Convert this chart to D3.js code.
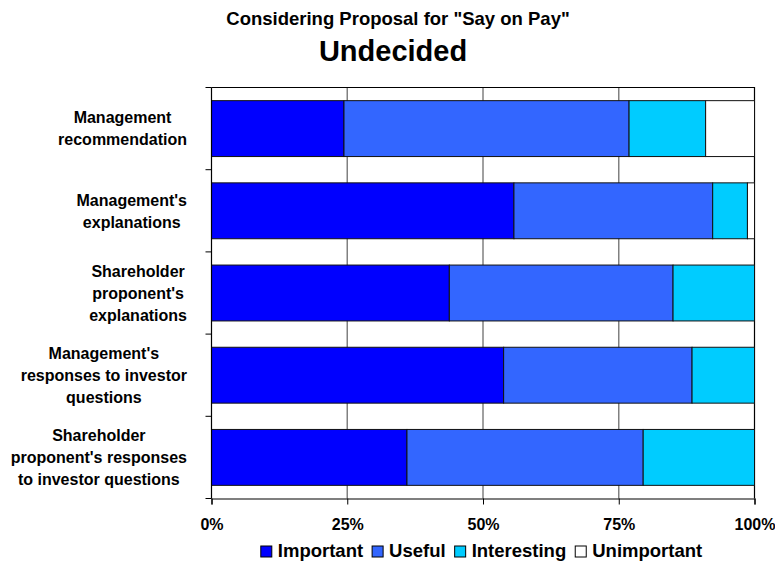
<!DOCTYPE html>
<html>
<head>
<meta charset="utf-8">
<script src="https://cdn.jsdelivr.net/npm/d3@7"></script>
<style>
  html, body { margin: 0; padding: 0; background: #fff; }
  svg { display: block; font-family: "Liberation Sans", Arial, sans-serif; }
</style>
</head>
<body>
<svg id="chart" width="775" height="563"></svg>
<script>
// ---- Data ----
const categories = [
  ["Management", "recommendation"],
  ["Management's", "explanations"],
  ["Shareholder", "proponent's", "explanations"],
  ["Management's", "responses to investor", "questions"],
  ["Shareholder", "proponent's responses", "to investor questions"]
];
const seriesNames = ["Important", "Useful", "Interesting", "Unimportant"];
const important   = [24.4, 55.7, 43.8, 53.8, 36.0];
const useful      = [52.5, 36.6, 41.2, 34.7, 43.5];
const interesting = [14.1, 6.4, 15.0, 11.5, 20.5];
const unimportant = [9.0, 1.3, 0, 0, 0];
const xTicks = [0, 25, 50, 75, 100];
const xTickLabels = ["0%", "25%", "50%", "75%", "100%"];
const titleLine1 = 'Considering Proposal for "Say on Pay"';
const titleLine2 = "Undecided";
const colors = ["#0000FF", "#3366FF", "#00CCFF", "#FFFFFF"];

// ---- Layout ----
const svg = d3.select("#chart");
const plot = { left: 211.5, right: 754.5, top: 87.5, bottom: 498.5 };

const seriesValues = [important, useful, interesting, unimportant];
const rows = categories.map((c, i) => {
  const obj = { key: i };
  seriesNames.forEach((s, j) => obj[s] = seriesValues[j][i]);
  return obj;
});
const stacked = d3.stack().keys(seriesNames)(rows);

const x = d3.scaleLinear().domain([0, 100]).range([plot.left, plot.right]);
const y = d3.scaleBand().domain(d3.range(categories.length))
  .range([plot.top, plot.bottom]).paddingInner(0.32).paddingOuter(0.16);
const step = y.step();

// Titles
svg.append("text").attr("x", 398).attr("y", 24.5).attr("text-anchor", "middle")
  .attr("font-size", 18.5).attr("font-weight", "bold").attr("fill", "#000").text(titleLine1);
svg.append("text").attr("x", 393).attr("y", 61).attr("text-anchor", "middle")
  .attr("font-size", 29).attr("font-weight", "bold").attr("fill", "#000").text(titleLine2);

// Gridlines
svg.append("g").selectAll("line").data(xTicks.filter(t => t > 0 && t < 100)).join("line")
  .attr("x1", d => x(d)).attr("x2", d => x(d))
  .attr("y1", plot.top).attr("y2", plot.bottom)
  .attr("stroke", "#808080").attr("stroke-width", 1.5);

// Plot border (top/right)
svg.append("path")
  .attr("d", `M${plot.left},${plot.top}H${plot.right}V${plot.bottom}`)
  .attr("fill", "none").attr("stroke", "#000").attr("stroke-width", 1.2);

// Bars
svg.append("g").selectAll("g").data(stacked).join("g")
  .attr("fill", (d, i) => colors[i])
  .selectAll("rect").data(d => d.filter(p => p[1] - p[0] > 0)).join("rect")
  .attr("x", d => x(d[0]))
  .attr("width", d => x(d[1]) - x(d[0]))
  .attr("y", d => y(d.data.key))
  .attr("height", y.bandwidth())
  .attr("stroke", "#111")
  .attr("stroke-width", 1);

// X axis
const xAxis = d3.axisBottom(x).tickValues(xTicks).tickSize(6).tickFormat((d, i) => xTickLabels[i]);
const gx = svg.append("g").attr("transform", `translate(0,${plot.bottom})`).call(xAxis);
gx.select(".domain").attr("stroke", "#000").attr("stroke-width", 1.2);
gx.selectAll(".tick line").attr("stroke", "#000");
gx.selectAll(".tick text").attr("font-size", 16).attr("font-weight", "bold")
  .attr("font-family", "Liberation Sans, Arial, sans-serif").attr("fill", "#000")
  .attr("y", 0).attr("dy", 0).attr("transform", "translate(0,31)");

// Y axis line and boundary ticks
svg.append("line").attr("x1", plot.left).attr("x2", plot.left)
  .attr("y1", plot.top).attr("y2", plot.bottom).attr("stroke", "#000").attr("stroke-width", 1.2);
const boundaries = d3.range(categories.length + 1).map(i => plot.top + i * step);
svg.append("g").selectAll("line").data(boundaries).join("line")
  .attr("x1", plot.left - 6).attr("x2", plot.left)
  .attr("y1", d => d).attr("y2", d => d)
  .attr("stroke", "#000").attr("stroke-width", 1);

// Category labels: block right-aligned, lines centered within block
const lineH = 22;
const labelRight = 187;
categories.forEach((lines, i) => {
  const cy = y(i) + y.bandwidth() / 2;
  const g = svg.append("g");
  const texts = lines.map((ln, k) => g.append("text")
    .attr("font-size", 16).attr("font-weight", "bold").attr("fill", "#000")
    .attr("text-anchor", "middle")
    .attr("y", cy + (k - (lines.length - 1) / 2) * lineH + 5.8)
    .text(ln));
  const maxW = d3.max(texts, t => t.node().getComputedTextLength());
  texts.forEach(t => t.attr("x", labelRight - maxW / 2));
});

// Legend
const legend = svg.append("g");
let lx = 0;
seriesNames.forEach((s, i) => {
  const g = legend.append("g");
  g.append("rect").attr("x", 0).attr("y", -11).attr("width", 11).attr("height", 11)
    .attr("fill", colors[i]).attr("stroke", "#000").attr("stroke-width", 1);
  const t = g.append("text").attr("x", 17).attr("y", 0)
    .attr("font-size", 18.5).attr("font-weight", "bold").attr("fill", "#000").text(s);
  const w = 17 + t.node().getComputedTextLength();
  g.attr("transform", `translate(${lx},0)`);
  lx += w + 9;
});
const totalW = lx - 9;
legend.attr("transform", `translate(${482 - totalW / 2 - 0.5},557)`);
</script>
</body>
</html>
